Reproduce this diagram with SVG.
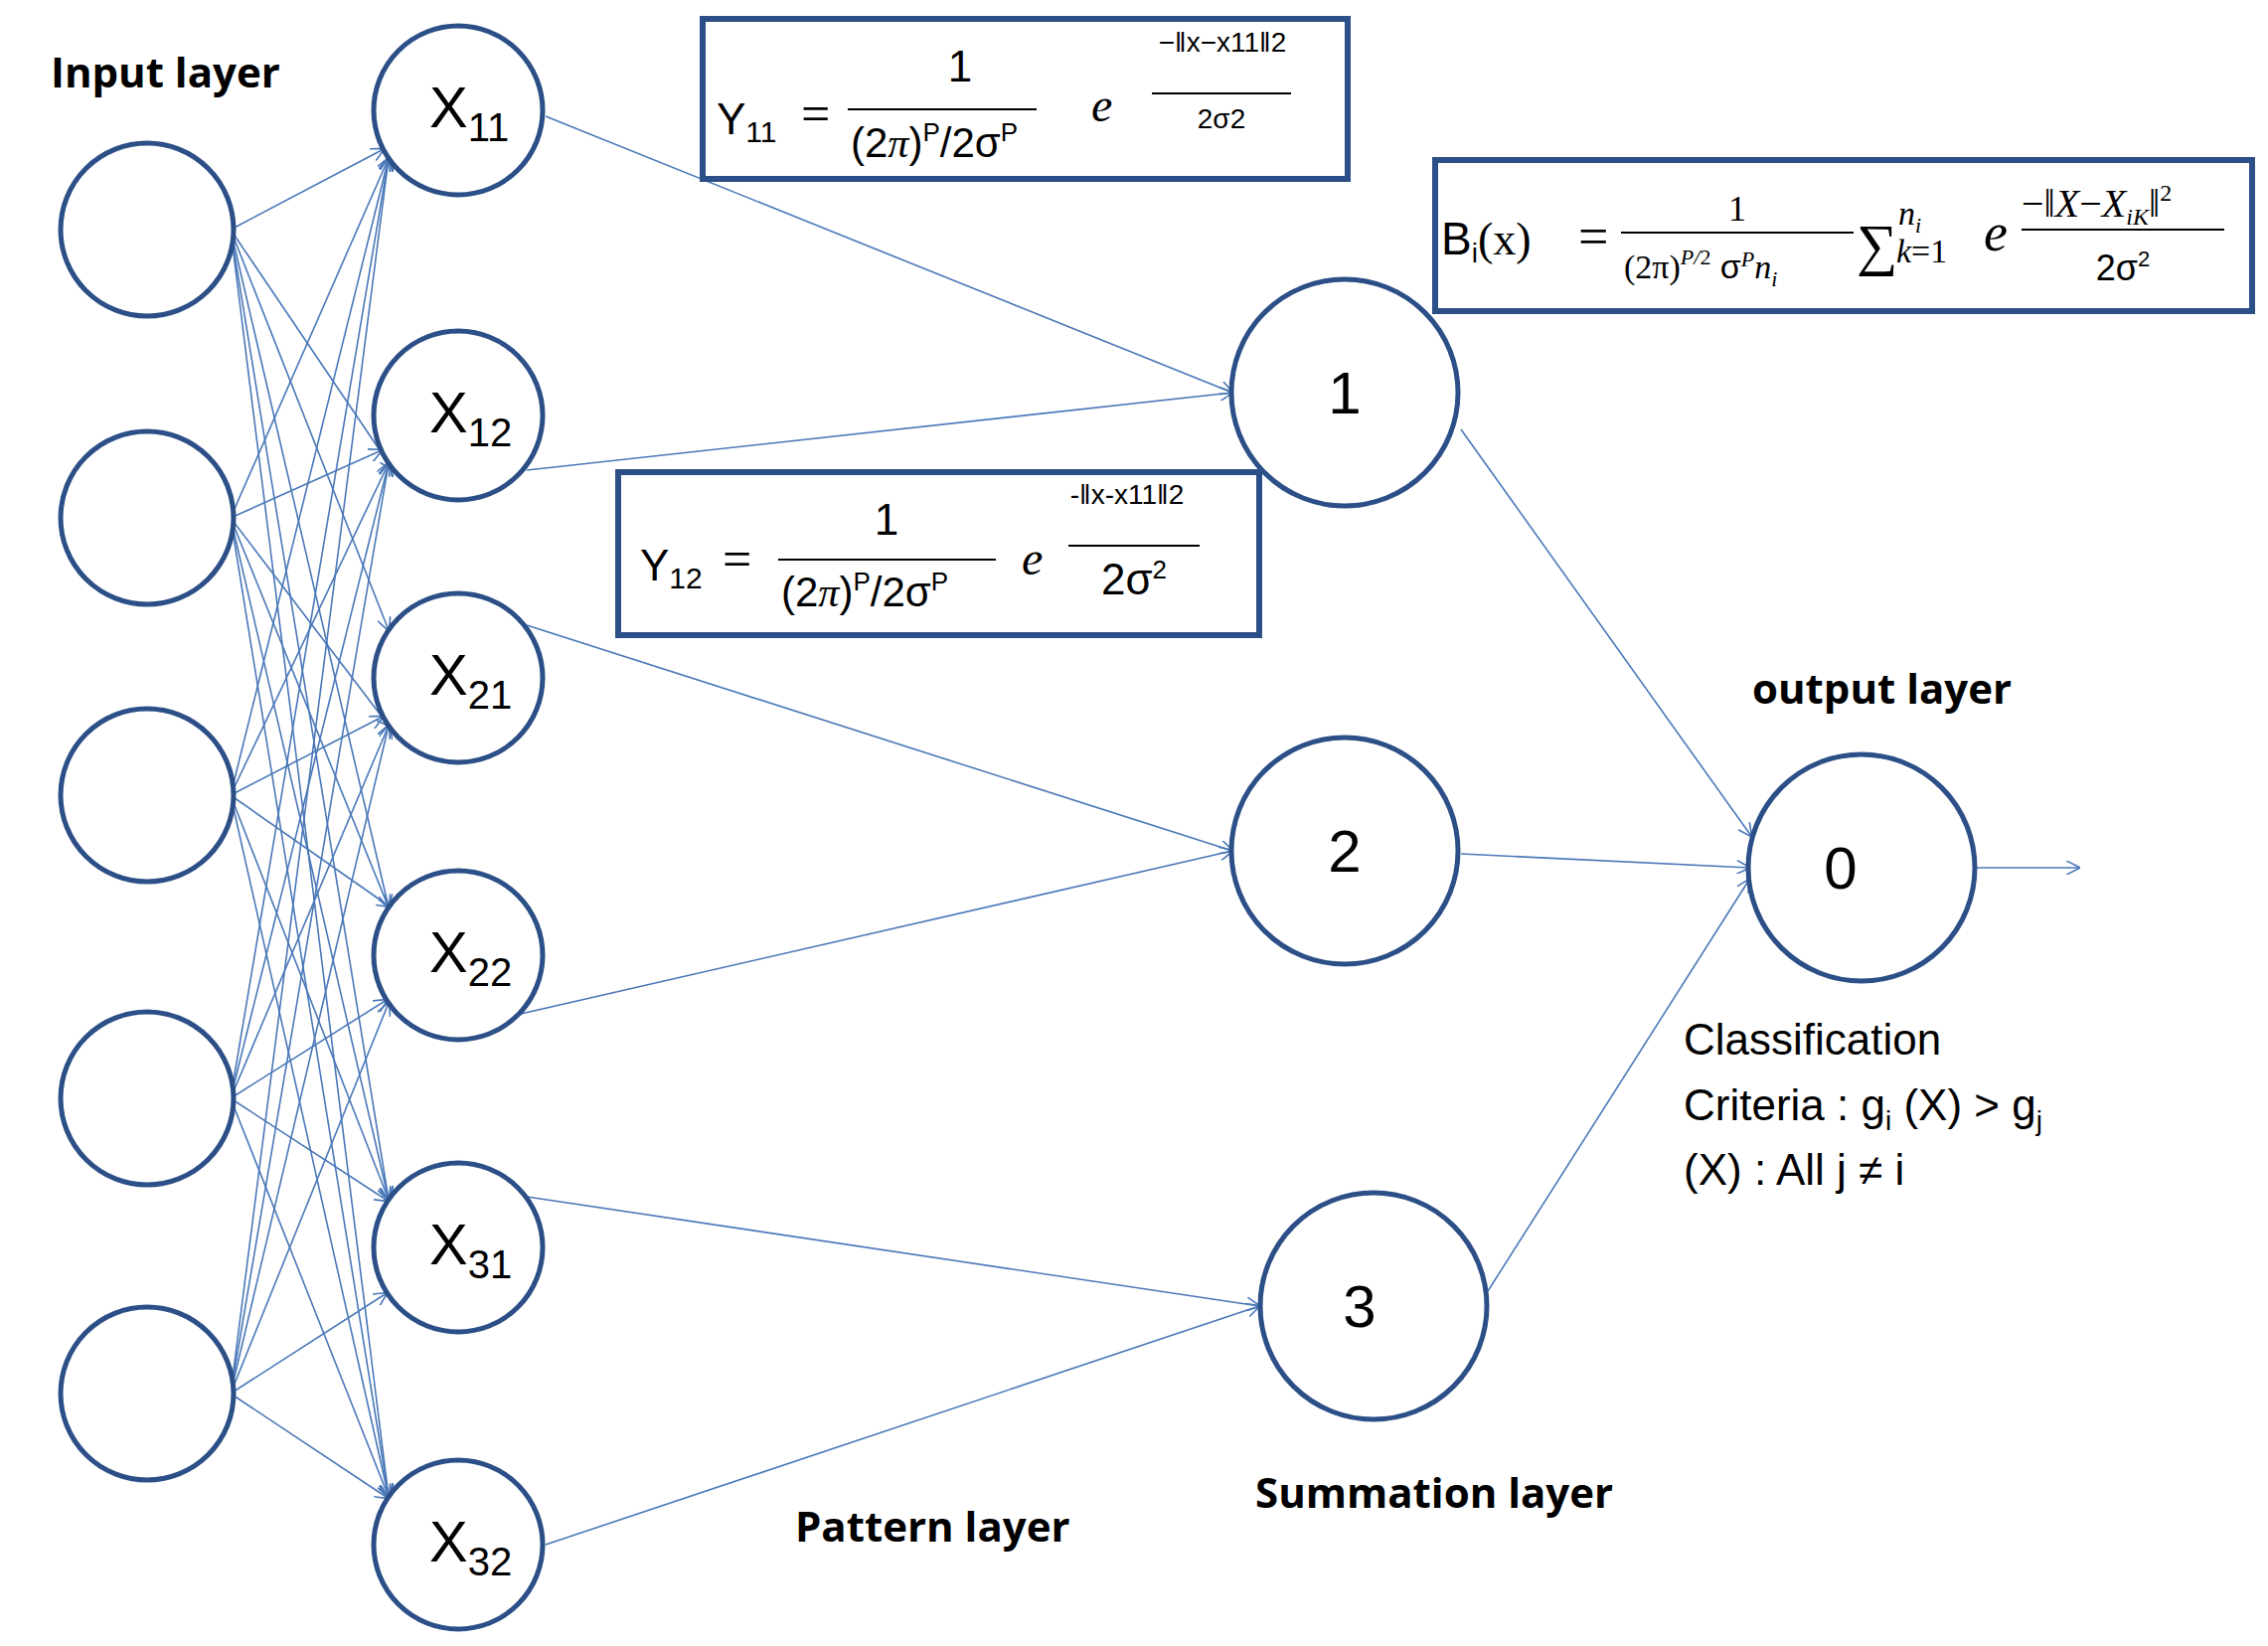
<svg xmlns="http://www.w3.org/2000/svg" width="2282" height="1656" viewBox="0 0 2282 1656">
<style>
.n{fill:#fff;stroke:#2B4F86;stroke-width:5}
.b{fill:#fff;stroke:#2B4F86;stroke-width:6}
.c line{stroke:#4A78B8;stroke-width:1.6;marker-end:url(#a)}
.t{font-family:"Liberation Sans",Arial,sans-serif;fill:#000}
.h{font-family:"Open Sans","Liberation Sans",sans-serif;font-weight:bold;font-size:42px}
.m{font-family:"Liberation Serif",serif;fill:#000}
.bar{stroke:#000;stroke-width:2}
</style>
<defs><marker id="a" viewBox="0 0 12 12" refX="11" refY="6" markerWidth="14" markerHeight="14" markerUnits="userSpaceOnUse" orient="auto"><path d="M0,0 L12,6 L0,12" fill="none" stroke="#4A78B8" stroke-width="1.4"/></marker></defs>
<rect width="2282" height="1656" fill="#fff"/>
<g class="c" id="connectors">
<line x1="232" y1="231" x2="386" y2="150"/><line x1="232" y1="231" x2="395" y2="472"/><line x1="232" y1="231" x2="391" y2="634"/><line x1="232" y1="231" x2="391" y2="913"/><line x1="232" y1="231" x2="391" y2="1207"/><line x1="232" y1="231" x2="391" y2="1506"/>
<line x1="232" y1="521" x2="391" y2="159"/><line x1="232" y1="521" x2="384" y2="453"/><line x1="232" y1="521" x2="391" y2="730"/><line x1="232" y1="521" x2="391" y2="913"/><line x1="232" y1="521" x2="391" y2="1207"/><line x1="232" y1="521" x2="391" y2="1506"/>
<line x1="232" y1="800" x2="391" y2="159"/><line x1="232" y1="800" x2="391" y2="466"/><line x1="232" y1="800" x2="385" y2="721"/><line x1="232" y1="800" x2="392" y2="912"/><line x1="232" y1="800" x2="391" y2="1207"/><line x1="232" y1="800" x2="391" y2="1506"/>
<line x1="232" y1="1105" x2="391" y2="159"/><line x1="232" y1="1105" x2="391" y2="466"/><line x1="232" y1="1105" x2="391" y2="730"/><line x1="232" y1="1105" x2="389" y2="1006"/><line x1="232" y1="1105" x2="390" y2="1208"/><line x1="232" y1="1105" x2="391" y2="1506"/>
<line x1="232" y1="1402" x2="391" y2="159"/><line x1="232" y1="1402" x2="391" y2="466"/><line x1="232" y1="1402" x2="391" y2="730"/><line x1="232" y1="1402" x2="391" y2="1009"/><line x1="232" y1="1402" x2="389" y2="1301"/><line x1="232" y1="1402" x2="390" y2="1507"/>
<line x1="549" y1="117" x2="1240" y2="395"/><line x1="530" y1="473" x2="1240" y2="395"/>
<line x1="530" y1="629" x2="1240" y2="856"/><line x1="524" y1="1020" x2="1240" y2="856"/>
<line x1="530" y1="1204" x2="1267" y2="1314"/><line x1="549" y1="1554" x2="1267" y2="1314"/>
<line x1="1470" y1="432" x2="1762" y2="841"/><line x1="1470" y1="859" x2="1760" y2="873"/><line x1="1497" y1="1299" x2="1760" y2="885"/>
<line x1="1987" y1="873" x2="2092" y2="873"/>
</g>
<g id="in1"><circle class="n" cx="148" cy="231" r="87"/></g>
<g id="in2"><circle class="n" cx="148" cy="521" r="87"/></g>
<g id="in3"><circle class="n" cx="148" cy="800" r="87"/></g>
<g id="in4"><circle class="n" cx="148" cy="1105" r="87"/></g>
<g id="in5"><circle class="n" cx="148" cy="1402" r="87"/></g>
<g id="x11"><circle class="n" cx="461" cy="111" r="85"/><text class="t" x="432" y="128" font-size="58">X<tspan font-size="40" dy="14">11</tspan></text></g>
<g id="x12"><circle class="n" cx="461" cy="418" r="85"/><text class="t" x="432" y="435" font-size="58">X<tspan font-size="40" dy="14">12</tspan></text></g>
<g id="x21"><circle class="n" cx="461" cy="682" r="85"/><text class="t" x="432" y="699" font-size="58">X<tspan font-size="40" dy="14">21</tspan></text></g>
<g id="x22"><circle class="n" cx="461" cy="961" r="85"/><text class="t" x="432" y="978" font-size="58">X<tspan font-size="40" dy="14">22</tspan></text></g>
<g id="x31"><circle class="n" cx="461" cy="1255" r="85"/><text class="t" x="432" y="1272" font-size="58">X<tspan font-size="40" dy="14">31</tspan></text></g>
<g id="x32"><circle class="n" cx="461" cy="1554" r="85"/><text class="t" x="432" y="1571" font-size="58">X<tspan font-size="40" dy="14">32</tspan></text></g>
<g id="s1"><circle class="n" cx="1353" cy="395" r="114"/><text class="t" x="1353" y="416" font-size="60" text-anchor="middle">1</text></g>
<g id="s2"><circle class="n" cx="1353" cy="856" r="114"/><text class="t" x="1353" y="877" font-size="60" text-anchor="middle">2</text></g>
<g id="s3"><circle class="n" cx="1382" cy="1314" r="114"/><text class="t" x="1368" y="1335" font-size="60" text-anchor="middle">3</text></g>
<g id="out"><circle class="n" cx="1873" cy="873" r="114"/><text class="t" x="1852" y="894" font-size="60" text-anchor="middle">0</text></g>
<g id="labels">
<text class="h" x="51" y="88">Input layer</text>
<text class="h" x="800" y="1551">Pattern layer</text>
<text class="h" x="1263" y="1517">Summation layer</text>
<text class="h" x="1763" y="708">output layer</text>
<text class="t" x="1694" y="1061" font-size="44">Classification</text>
<text class="t" x="1694" y="1127" font-size="44">Criteria : g<tspan font-size="28" dy="10">i</tspan><tspan dy="-10"> (X) &gt; g</tspan><tspan font-size="28" dy="10">j</tspan></text>
<text class="t" x="1694" y="1192" font-size="44">(X) : All j ≠ i</text>
</g>
<g id="y11box">
<rect class="b" x="707" y="19" width="649" height="161"/>
<text class="t" x="721" y="135" font-size="44">Y<tspan font-size="30" dy="8">11</tspan></text>
<text class="m" x="806" y="132" font-size="52">=</text>
<text class="t" x="966" y="82" font-size="44" text-anchor="middle">1</text>
<line class="bar" x1="853" y1="110" x2="1043" y2="110"/>
<text class="t" x="856" y="158" font-size="42">(2<tspan font-family="Liberation Serif" font-style="italic">π</tspan>)<tspan font-size="26" dy="-16">P</tspan><tspan dy="16">/2σ</tspan><tspan font-size="26" dy="-16">P</tspan></text>
<text class="m" x="1098" y="122" font-size="48" font-style="italic">e</text>
<text class="t" x="1230" y="52" font-size="28" text-anchor="middle">−‖x−x11‖2</text>
<line class="bar" x1="1159" y1="94" x2="1299" y2="94"/>
<text class="t" x="1229" y="129" font-size="28" text-anchor="middle">2σ2</text>
</g>
<g id="y12box">
<rect class="b" x="622" y="475" width="645" height="164"/>
<text class="t" x="644" y="584" font-size="44">Y<tspan font-size="30" dy="8">12</tspan></text>
<text class="m" x="727" y="580" font-size="52">=</text>
<text class="t" x="892" y="538" font-size="44" text-anchor="middle">1</text>
<line class="bar" x1="783" y1="563" x2="1002" y2="563"/>
<text class="t" x="786" y="610" font-size="42">(2<tspan font-family="Liberation Serif" font-style="italic">π</tspan>)<tspan font-size="26" dy="-16">P</tspan><tspan dy="16">/2σ</tspan><tspan font-size="26" dy="-16">P</tspan></text>
<text class="m" x="1028" y="578" font-size="48" font-style="italic">e</text>
<text class="t" x="1134" y="507" font-size="28" text-anchor="middle">-‖x-x11‖2</text>
<line class="bar" x1="1075" y1="549" x2="1207" y2="549"/>
<text class="t" x="1141" y="598" font-size="44" text-anchor="middle">2σ<tspan font-size="26" dy="-16">2</tspan></text>
</g>
<g id="bbox">
<rect class="b" x="1444" y="161" width="822" height="152"/>
<text class="t" x="1450" y="256" font-size="46">B<tspan font-size="28" dy="8">i</tspan><tspan dy="-8" font-family="Liberation Serif">(x)</tspan></text>
<text class="m" x="1588" y="256" font-size="54">=</text>
<text class="m" x="1748" y="222" font-size="36" text-anchor="middle">1</text>
<line class="bar" x1="1631" y1="234" x2="1865" y2="234"/>
<text class="m" x="1634" y="280" font-size="34">(2π)<tspan font-size="22" dy="-14" font-style="italic">P/</tspan><tspan font-size="22">2</tspan><tspan dy="14" font-family="Liberation Sans"> σ</tspan><tspan font-size="22" dy="-12" font-style="italic">P</tspan><tspan dy="12" font-style="italic">n</tspan><tspan font-size="22" dy="8" font-style="italic">i</tspan></text>
<text class="m" x="1868" y="266" font-size="58">∑</text>
<text class="m" x="1910" y="226" font-size="34" font-style="italic">n<tspan font-size="22" dy="8">i</tspan></text>
<text class="m" x="1908" y="264" font-size="34"><tspan font-style="italic">k</tspan>=1</text>
<text class="m" x="1996" y="252" font-size="54" font-style="italic">e</text>
<text class="m" x="2034" y="218" font-size="40">−‖<tspan font-style="italic">X</tspan>−<tspan font-style="italic">X</tspan><tspan font-size="24" dy="8" font-style="italic">iK</tspan><tspan dy="-8">‖</tspan><tspan font-size="24" dy="-16">2</tspan></text>
<line class="bar" x1="2034" y1="231" x2="2238" y2="231"/>
<text class="t" x="2136" y="282" font-size="36" text-anchor="middle">2σ<tspan font-size="22" dy="-14">2</tspan></text>
</g>
</svg>
